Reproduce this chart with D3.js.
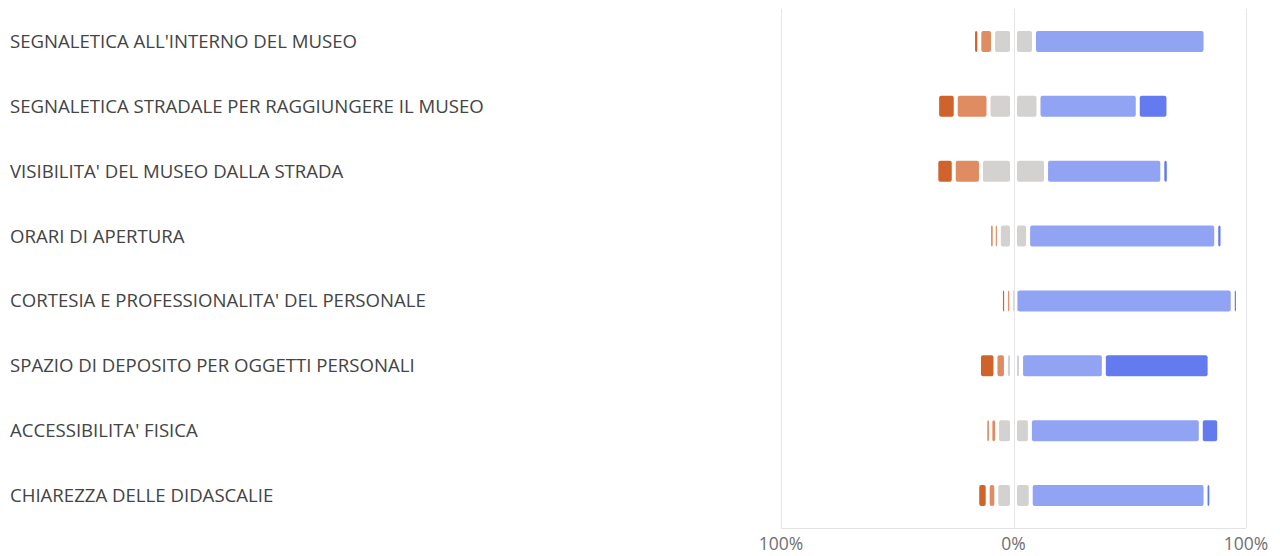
<!DOCTYPE html>
<html lang="it">
<head>
<meta charset="UTF-8" />
<title>Valutazione servizi museo</title>
<script src="https://d3js.org/d3.v7.min.js"></script>
<style>
  html, body { margin: 0; padding: 0; background: #fff; }
  svg { display: block; font-family: "Open Sans", "Noto Sans", sans-serif; }
  .cat-label { fill: #444; font-size: 18.6px; }
  .tick-label { fill: #707070; font-size: 17.5px; }
</style>
</head>
<body>
<svg id="chart"></svg>
<script>
// categories top to bottom
const categories = [
  "SEGNALETICA ALL'INTERNO DEL MUSEO",
  "SEGNALETICA STRADALE PER RAGGIUNGERE IL MUSEO",
  "VISIBILITA' DEL MUSEO DALLA STRADA",
  "ORARI DI APERTURA",
  "CORTESIA E PROFESSIONALITA' DEL PERSONALE",
  "SPAZIO DI DEPOSITO PER OGGETTI PERSONALI",
  "ACCESSIBILITA' FISICA",
  "CHIAREZZA DELLE DIDASCALIE"
];

// percentages per answer level
const veryNeg = [2.7, 8.0, 7.5, 1.9, 2.2, 7.1, 2.1, 4.5];
const neg     = [5.9, 14.1, 11.7, 2.2, 2.2, 4.5, 2.9, 3.7];
const neutral = [17.6, 21.5, 28.0, 12.6, 2.0, 6.5, 14.1, 14.8];
const pos     = [73.8, 42.7, 50.0, 80.9, 93.3, 35.6, 73.5, 75.2];
const veryPos = [0, 13.2, 2.8, 2.7, 2.2, 45.5, 7.9, 2.5];

const tickValues = [-100, 0, 100];
const tickLabels = ["100%", "0%", "100%"];

const width = 1280;
const height = 556;

const svg = d3.select("#chart")
  .attr("width", width)
  .attr("height", height);

const x = d3.scaleLinear().domain([-100, 100]).range([781, 1246]);
const y = d3.scaleBand().domain(categories).range([9, 528]);

const colors = ["#d0622b", "#e08c62", "#d3d2d0", "#d3d2d0", "#91a3f3", "#637bee"];

// gridlines + bottom line
svg.append("g")
  .selectAll("line")
  .data(tickValues)
  .join("line")
  .attr("x1", d => Math.round(x(d)) + 0.5)
  .attr("x2", d => Math.round(x(d)) + 0.5)
  .attr("y1", 9)
  .attr("y2", 528)
  .attr("stroke", "#e6e6e6");

svg.append("line")
  .attr("x1", x(-100)).attr("x2", x(100))
  .attr("y1", 528.5).attr("y2", 528.5)
  .attr("stroke", "#e3e3e3");

svg.append("g")
  .selectAll("text")
  .data(tickValues)
  .join("text")
  .attr("class", "tick-label")
  .attr("x", d => x(d))
  .attr("y", 550)
  .attr("text-anchor", "middle")
  .text((d, i) => tickLabels[i]);

// build stacked segments, centred on neutral
const rows = categories.map((c, i) => {
  const start = -(veryNeg[i] + neg[i] + neutral[i] / 2);
  const vals = [veryNeg[i], neg[i], neutral[i] / 2, neutral[i] / 2, pos[i], veryPos[i]];
  let acc = start;
  return vals.map((v, k) => {
    const seg = { cat: c, k, v, x0: acc, x1: acc + v };
    acc += v;
    return seg;
  });
});

const barH = 21;
const gap = 2;

svg.append("g")
  .selectAll("g")
  .data(rows)
  .join("g")
  .selectAll("rect")
  .data(d => d.filter(s => s.v > 0))
  .join("rect")
  .attr("x", s => {
    let a = x(s.x0) + gap;
    if (s.k === 3) a = x(0) + 3.5;
    return a;
  })
  .attr("width", s => {
    let a = x(s.x0) + gap, b = x(s.x1) - gap;
    if (s.k === 2) b = x(0) - 3.5;
    if (s.k === 3) a = x(0) + 3.5;
    return Math.max(1.2, b - a);
  })
  .attr("y", s => y(s.cat) + y.bandwidth() / 2 - barH / 2)
  .attr("height", barH)
  .attr("rx", 2)
  .attr("fill", s => colors[s.k]);

// category labels
svg.append("g")
  .selectAll("text")
  .data(categories)
  .join("text")
  .attr("class", "cat-label")
  .attr("x", 10)
  .attr("y", d => y(d) + y.bandwidth() / 2 + 6.5)
  .text(d => d);
</script>
</body>
</html>
